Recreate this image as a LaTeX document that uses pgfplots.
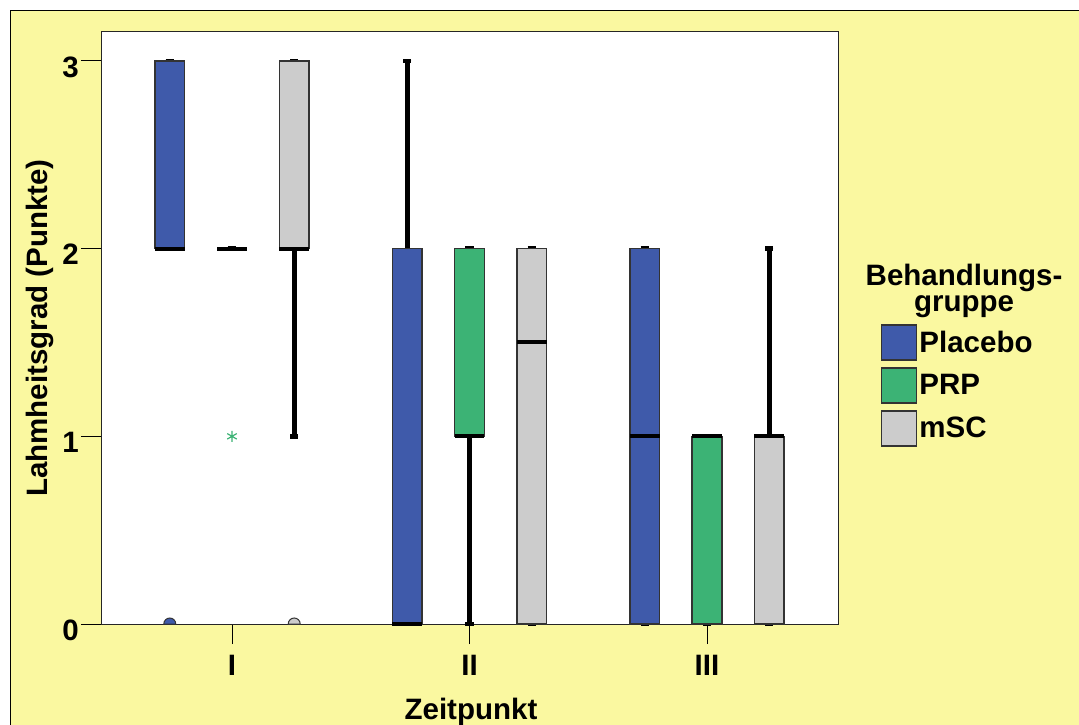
\documentclass[border=0pt]{standalone}
\usepackage{fontspec}
\setmainfont{Liberation Sans}
\usepackage{pgfplots}
\pgfplotsset{compat=1.18}
\usepgfplotslibrary{statistics}
\definecolor{pblue}{HTML}{3F5AAA}
\definecolor{pgreen}{HTML}{3CB375}
\definecolor{pgray}{HTML}{CCCCCC}
\definecolor{bgyellow}{HTML}{FAF8A0}
\pgfdeclareplotmark{halfcirc}{%
  \pgfpathmoveto{\pgfqpoint{\pgfplotmarksize}{0pt}}%
  \pgfpatharc{0}{180}{\pgfplotmarksize}%
  \pgfpathclose
  \pgfusepathqfillstroke}
\newcommand{\bigfont}{\bfseries\fontsize{29.5}{30}\selectfont}
\begin{document}
\begin{tikzpicture}
\useasboundingbox (0,0) rectangle (1079pt,724pt);
\clip (0,0) rectangle (1079pt,724pt);
\fill[white] (0,0) rectangle (1079pt,724pt);
\draw[fill=bgyellow, draw=black, line width=1.5pt] (10.5pt,-20pt) rectangle (1100pt,713.5pt);
\begin{axis}[
  scale only axis,
  width=737pt, height=592pt,
  at={(101pt,100pt)}, anchor=south west,
  xmin=-0.5516, xmax=2.5516,
  ymin=0, ymax=3.1545,
  clip=false,
  axis background/.style={fill=white},
  axis line style={black!85, line width=1pt},
  tick align=outside, tick pos=left,
  major tick length=20pt,
  tick style={black, line width=1pt},
  xtick={0,1,2}, xticklabels={I,II,III},
  ytick={0,1,2,3},
  /pgf/number format/assume math mode=true,
  tick label style={font=\bigfont},
  yticklabel style={inner sep=2pt, yshift=-6pt},
  xticklabel style={inner sep=0pt, anchor=north, yshift=-11pt},
  xlabel={Zeitpunkt},
  ylabel={Lahmheitsgrad (Punkte)},
  label style={font=\bigfont},
  xlabel style={at={(axis description cs:0.502,-0.161)}, anchor=base},
  ylabel style={at={(axis description cs:-0.083,0.5)}, anchor=center},
  boxplot/draw direction=y,
  boxplot/box extend=0.126,
  boxplot/whisker extend=0.034,
  boxplot/every box/.style={draw=black!80, line width=1.5pt},
  boxplot/every median/.style={black, line width=4pt},
  boxplot/every whisker/.style={black, line width=4.8pt},
  legend style={at={(axis description cs:1.058,0.507)}, anchor=north west,
    draw=none, fill=none, inner sep=0pt, row sep=6.5pt,
    font=\bigfont, legend cell align=left,
    /tikz/every even column/.append style={column sep=6pt}},
]
% Zeitpunkt I
\addplot[forget plot, fill=pblue, boxplot prepared={lower whisker=2, lower quartile=2, median=2, upper quartile=3, upper whisker=3, draw position=-0.262}] coordinates {};
\addplot[forget plot, fill=pgreen, boxplot prepared={lower whisker=2, lower quartile=2, median=2, upper quartile=2, upper whisker=2, draw position=0}] coordinates {};
\addplot[forget plot, fill=pgray, boxplot prepared={lower whisker=1, lower quartile=2, median=2, upper quartile=3, upper whisker=3, draw position=0.262}] coordinates {};
% Zeitpunkt II
\addplot[forget plot, fill=pblue, boxplot prepared={lower whisker=0, lower quartile=0, median=0, upper quartile=2, upper whisker=3, draw position=0.738}] coordinates {};
\addplot[forget plot, fill=pgreen, boxplot prepared={lower whisker=0, lower quartile=1, median=1, upper quartile=2, upper whisker=2, draw position=1}] coordinates {};
\addplot[forget plot, fill=pgray, boxplot prepared={lower whisker=0, lower quartile=0, median=1.5, upper quartile=2, upper whisker=2, draw position=1.262}] coordinates {};
% Zeitpunkt III
\addplot[forget plot, fill=pblue, boxplot prepared={lower whisker=0, lower quartile=0, median=1, upper quartile=2, upper whisker=2, draw position=1.738}] coordinates {};
\addplot[forget plot, fill=pgreen, boxplot prepared={lower whisker=0, lower quartile=0, median=1, upper quartile=1, upper whisker=1, draw position=2}] coordinates {};
\addplot[forget plot, fill=pgray, boxplot prepared={lower whisker=0, lower quartile=0, median=1, upper quartile=1, upper whisker=2, draw position=2.262}] coordinates {};
% outliers
\addplot[forget plot, only marks, mark=halfcirc, mark size=6pt, mark options={fill=pblue, draw=black!80, line width=1pt}] coordinates {(-0.262,0)};
\addplot[forget plot, only marks, mark=halfcirc, mark size=6pt, mark options={fill=pgray, draw=black!80, line width=1pt}] coordinates {(0.262,0)};
\addplot[forget plot, only marks, mark=asterisk, mark size=5.5pt, mark options={draw=pgreen, line width=1.2pt}] coordinates {(0,1)};
% legend
\addlegendimage{legend image code/.code={\draw[fill=pblue,draw=black!80,line width=1.5pt] (0pt,-17.5pt) rectangle (35pt,17.5pt);}}
\addlegendentry{Placebo}
\addlegendimage{legend image code/.code={\draw[fill=pgreen,draw=black!80,line width=1.5pt] (0pt,-17.5pt) rectangle (35pt,17.5pt);}}
\addlegendentry{PRP}
\addlegendimage{legend image code/.code={\draw[fill=pgray,draw=black!80,line width=1.5pt] (0pt,-17.5pt) rectangle (35pt,17.5pt);}}
\addlegendentry{mSC}
\node[font=\bigfont, align=center, anchor=base] at (axis description cs:1.171,0.5287) {Behandlungs-\\[-4pt]gruppe};
\end{axis}
\end{tikzpicture}
\end{document}
